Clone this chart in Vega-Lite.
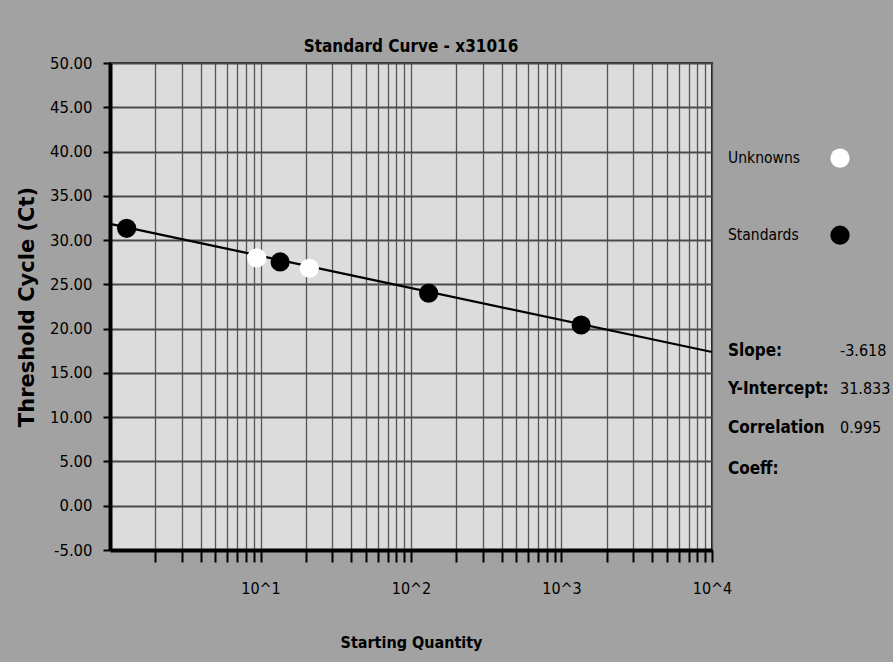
{
  "$schema": "https://vega.github.io/schema/vega-lite/v6.json",
  "background": "#a2a2a2",
  "padding": {"left": 15, "top": 37, "right": 2, "bottom": 11},
  "spacing": 16,
  "bounds": "flush",
  "datasets": {
    "points": [
      {"series": "Standards", "quantity": 1.29, "ct": 31.33},
      {"series": "Standards", "quantity": 13.5, "ct": 27.53},
      {"series": "Standards", "quantity": 131, "ct": 24.0},
      {"series": "Standards", "quantity": 1350, "ct": 20.41},
      {"series": "Unknowns", "quantity": 9.44, "ct": 27.98},
      {"series": "Unknowns", "quantity": 21.1, "ct": 26.82}
    ],
    "fit": [
      {"quantity": 1, "ct": 31.833},
      {"quantity": 10000, "ct": 17.361}
    ],
    "legend": [
      {"series": "Unknowns"},
      {"series": "Standards"}
    ],
    "stats": [
      {"stat": "Slope:", "value": "-3.618"},
      {"stat": "Y-Intercept:", "value": "31.833"},
      {"stat": "Correlation Coeff:", "value": "0.995"}
    ]
  },
  "hconcat": [
    {
      "width": 602,
      "height": 487,
      "title": {
        "text": "Standard Curve - x31016",
        "font": "DejaVu Sans Condensed, sans-serif",
        "fontSize": 17,
        "fontWeight": "bold",
        "color": "#000000",
        "anchor": "middle",
        "baseline": "alphabetic",
        "offset": -14
      },
      "view": {"fill": "#dcdcdc", "stroke": "#1e1e1e", "strokeWidth": 2},
      "encoding": {
        "x": {
          "field": "quantity",
          "type": "quantitative",
          "scale": {"type": "log", "domain": [1, 10000], "nice": false},
          "axis": {
            "title": "Starting Quantity",
            "values": [2, 3, 4, 5, 6, 7, 8, 9, 10, 20, 30, 40, 50, 60, 70, 80, 90, 100, 200, 300, 400, 500, 600, 700, 800, 900, 1000, 2000, 3000, 4000, 5000, 6000, 7000, 8000, 9000, 10000],
            "labelExpr": "indexof([10, 100, 1000, 10000], datum.value) >= 0 ? '10^' + round(log(datum.value) / LN10) : ''",
            "labelFlush": false,
            "labelOverlap": false,
            "labelFont": "DejaVu Sans Condensed, sans-serif",
            "labelFontSize": 16,
            "labelColor": "#000000",
            "labelPadding": 18,
            "tickSize": 12,
            "tickWidth": 2,
            "tickColor": "#000000",
            "domainColor": "#000000",
            "domainWidth": 4,
            "grid": true,
            "gridColor": "#555555",
            "gridWidth": 1.3,
            "gridOpacity": 1,
            "titleFont": "DejaVu Sans Condensed, sans-serif",
            "titleFontSize": 16,
            "titleFontWeight": "bold",
            "titleColor": "#000000",
            "titlePadding": 38
          }
        },
        "y": {
          "field": "ct",
          "type": "quantitative",
          "scale": {"domain": [-5, 50], "nice": false, "zero": false},
          "axis": {
            "title": "Threshold Cycle (Ct)",
            "values": [-5, 0, 5, 10, 15, 20, 25, 30, 35, 40, 45, 50],
            "labelExpr": "replace(format(datum.value, '.2f'), '−', '-')",
            "labelFont": "DejaVu Sans Condensed, sans-serif",
            "labelFontSize": 16.5,
            "labelColor": "#000000",
            "labelPadding": 11,
            "tickSize": 7,
            "tickWidth": 2,
            "tickColor": "#000000",
            "domainColor": "#000000",
            "domainWidth": 4,
            "grid": true,
            "gridColor": "#4a4a4a",
            "gridWidth": 2,
            "gridOpacity": 1,
            "titleFont": "DejaVu Sans, sans-serif",
            "titleFontSize": 21,
            "titleFontWeight": "bold",
            "titleColor": "#000000",
            "titlePadding": 12
          }
        }
      },
      "layer": [
        {
          "data": {"name": "fit"},
          "mark": {"type": "line", "color": "#000000", "strokeWidth": 2.2}
        },
        {
          "data": {"name": "points"},
          "mark": {"type": "circle", "size": 370, "opacity": 1},
          "encoding": {
            "color": {
              "field": "series",
              "type": "nominal",
              "scale": {"domain": ["Unknowns", "Standards"], "range": ["#ffffff", "#000000"]},
              "legend": null
            }
          }
        }
      ]
    },
    {
      "width": 112,
      "height": 383,
      "view": {"stroke": null, "fill": null},
      "layer": [
        {
          "data": {"name": "legend"},
          "mark": {"type": "text", "align": "left", "baseline": "middle", "font": "DejaVu Sans Condensed, sans-serif", "fontSize": 15.5, "color": "#000000"},
          "encoding": {
            "x": {"datum": "name", "type": "nominal", "scale": {"type": "point", "domain": ["name", "value"], "padding": 0}, "axis": null},
            "y": {"field": "series", "type": "nominal", "scale": {"type": "point", "domain": ["top1", "top2", "Unknowns", "gap1", "Standards", "gap2", "gap3", "Slope:", "Y-Intercept:", "Correlation Coeff:"], "padding": 0.47}, "axis": null},
            "text": {"field": "series"}
          }
        },
        {
          "data": {"name": "legend"},
          "mark": {"type": "circle", "size": 370, "opacity": 1},
          "encoding": {
            "x": {"datum": "value", "type": "nominal", "axis": null},
            "y": {"field": "series", "type": "nominal", "axis": null},
            "color": {
              "field": "series",
              "type": "nominal",
              "scale": {"domain": ["Unknowns", "Standards"], "range": ["#ffffff", "#000000"]},
              "legend": null
            }
          }
        },
        {
          "data": {"name": "stats"},
          "mark": {"type": "text", "align": "left", "baseline": "middle", "font": "DejaVu Sans Condensed, sans-serif", "fontSize": 17, "fontWeight": "bold", "color": "#000000", "lineBreak": " ", "lineHeight": 41},
          "encoding": {
            "x": {"datum": "name", "type": "nominal", "axis": null},
            "y": {"field": "stat", "type": "nominal", "axis": null},
            "text": {"field": "stat"}
          }
        },
        {
          "data": {"name": "stats"},
          "mark": {"type": "text", "align": "left", "baseline": "middle", "font": "DejaVu Sans Condensed, sans-serif", "fontSize": 16, "color": "#000000"},
          "encoding": {
            "x": {"datum": "value", "type": "nominal", "axis": null},
            "y": {"field": "stat", "type": "nominal", "axis": null},
            "text": {"field": "value"}
          }
        }
      ]
    }
  ],
  "config": {
    "view": {"stroke": null}
  }
}
